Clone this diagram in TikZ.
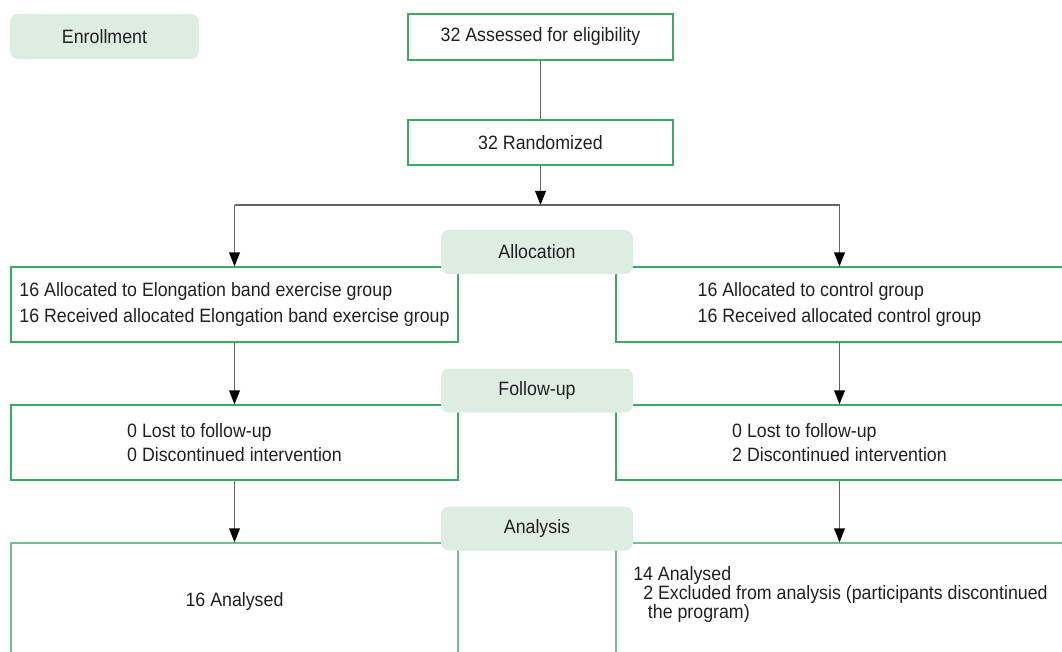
\documentclass[tikz,border=0pt]{standalone}
\usepackage{fontspec}
\setmainfont{Liberation Sans}[FakeStretch=0.92]
\usetikzlibrary{arrows.meta}
\definecolor{boxgreen}{RGB}{58,170,100}
\definecolor{lightgreen}{RGB}{112,192,148}
\definecolor{pillfill}{RGB}{222,237,226}
\definecolor{linegray}{RGB}{100,100,100}
\definecolor{inkgray}{RGB}{35,31,32}

\begin{document}
\begin{tikzpicture}[x=0.75pt,y=-0.75pt,>={Triangle[length=10.5pt,width=8pt,color=black]},
  font=\fontsize{14.5}{19}\selectfont,text=inkgray]
  \tikzset{box/.style={draw=boxgreen,line width=0.9pt,inner sep=0pt,align=left,
      minimum width=335.25pt,minimum height=56.25pt},
    stage/.style={fill=pillfill,rounded corners=6pt,inner sep=0pt,
      minimum width=144pt,minimum height=33pt},
    link/.style={draw=linegray,line width=1.1pt}}
  \useasboundingbox (0,0) rectangle (1062,652);
  \clip (0,0) rectangle (1062,652);
  % top of the chart
  \node[stage,minimum width=141.75pt,minimum height=33.75pt] (enroll) at (104.5,36.5) {Enrollment};
  \node[box,minimum width=198.75pt,minimum height=34.5pt] (assess) at (540.5,37) {32 Assessed for eligibility};
  \node[box,minimum width=198.75pt,minimum height=33.75pt] (random) at (540.5,142.5) {32 Randomized};
  \coordinate (split) at (540.5,205);
  \coordinate (splitL) at (234.5,205);
  \coordinate (splitR) at (839.5,205);
  % two arms
  \node[box,font=\fontsize{14.5}{19.5}\selectfont] (allocL) at (234.5,304.5)
    {16 Allocated to Elongation band exercise group\\16 Received allocated Elongation band exercise group};
  \node[box,font=\fontsize{14.5}{19.5}\selectfont] (allocR) at (839.5,304.5)
    {16 Allocated to control group\\16 Received allocated control group};
  \node[box,font=\fontsize{14.5}{18}\selectfont] (followL) at (234.5,442.5)
    {0 Lost to follow-up\\0 Discontinued intervention};
  \node[box,font=\fontsize{14.5}{18}\selectfont] (followR) at (839.5,442.5)
    {0 Lost to follow-up\\2 Discontinued intervention};
  \node[box,draw=lightgreen,minimum height=87pt] (anaL) at (234.5,601) {16 Analysed};
  \node[box,draw=lightgreen,minimum height=87pt] (anaR) at (839.5,601) {};
  \node[anchor=north west,inner sep=0pt,align=left,font=\fontsize{14.5}{13.5}\selectfont] (anaRnote) at (633,566)
    {14 Analysed\\\hspace*{7.5pt}2 Excluded from analysis (participants discontinued\\\hspace*{11pt}the program)};
  % stage labels
  \node[stage] (alloc) at (537,252) {Allocation};
  \node[stage] (follow) at (537,390.5) {Follow-up};
  \node[stage] (analysis) at (537,528.5) {Analysis};
  \path (assess) edge[link] (random);
  \path[->] (random) edge[link] (split);
  \path (splitL) edge[link] (splitR);
  \path[->] (splitL) edge[link] (allocL);
  \path[->] (splitR) edge[link] (allocR);
  \path[->] (allocL) edge[link] (followL);
  \path[->] (allocR) edge[link] (followR);
  \path[->] (followL) edge[link] (anaL);
  \path[->] (followR) edge[link] (anaR);
\end{tikzpicture}
\end{document}
